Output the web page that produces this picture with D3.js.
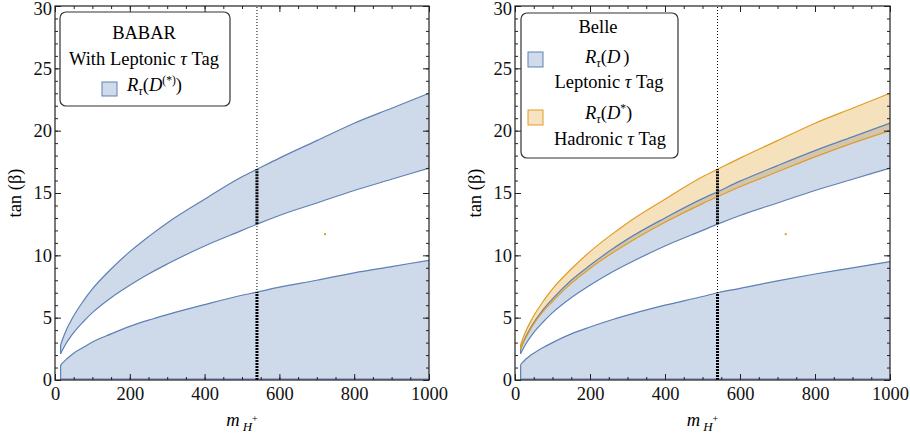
<!DOCTYPE html>
<html><head><meta charset="utf-8">
<script src="https://cdn.jsdelivr.net/npm/d3@7"></script>
<style>
body{margin:0;background:#fff;}
svg, svg text{font-family:"Liberation Serif","Times New Roman",serif;}
</style></head>
<body><svg id="c" width="910" height="436"></svg>
<script>
// ---- data ----
const mass = [15, 20, 30, 40, 50, 75, 100, 150, 200, 250, 300, 400, 500, 540, 600, 700, 800, 900, 1000];
// BABAR, leptonic tag, R(D(*))
const babarUpperHi = [2.8, 3.25, 4.0, 4.6, 5.15, 6.3, 7.3, 8.9, 10.3, 11.5, 12.6, 14.5, 16.3, 16.9, 17.8, 19.2, 20.6, 21.8, 23.0];
const babarUpperLo = [2.1, 2.4, 2.95, 3.4, 3.8, 4.65, 5.4, 6.6, 7.6, 8.5, 9.3, 10.75, 12.0, 12.5, 13.2, 14.2, 15.2, 16.1, 17.0];
const babarLowerHi = [1.2, 1.35, 1.65, 1.9, 2.15, 2.6, 3.05, 3.7, 4.3, 4.8, 5.25, 6.05, 6.8, 7.05, 7.45, 8.0, 8.6, 9.1, 9.6];
// Belle, leptonic tag R(D)
const belleBlueHi = [2.5, 2.9, 3.55, 4.1, 4.6, 5.65, 6.5, 8.0, 9.2, 10.3, 11.3, 13.0, 14.55, 15.1, 15.95, 17.2, 18.4, 19.5, 20.6];
const belleBlueLo = [2.1, 2.4, 2.95, 3.4, 3.8, 4.65, 5.4, 6.6, 7.6, 8.5, 9.3, 10.75, 12.0, 12.5, 13.2, 14.2, 15.2, 16.1, 17.0];
const belleLowerHi = [1.25, 1.4, 1.7, 1.95, 2.15, 2.6, 3.0, 3.7, 4.25, 4.75, 5.2, 6.0, 6.7, 7.0, 7.35, 7.95, 8.5, 9.0, 9.5];
// Belle, hadronic tag R(D*)
const belleOrangeHi = [2.8, 3.25, 4.0, 4.6, 5.15, 6.3, 7.3, 8.9, 10.3, 11.5, 12.6, 14.5, 16.3, 16.9, 17.8, 19.2, 20.6, 21.8, 23.0];
const belleOrangeLo = [2.45, 2.85, 3.45, 4.0, 4.5, 5.5, 6.3, 7.75, 8.95, 10.0, 10.95, 12.65, 14.15, 14.7, 15.5, 16.7, 17.9, 19.0, 20.0];
const markerMass = 540;
const strayPoint = [722, 11.7];
const xMajor = [0, 200, 400, 600, 800, 1000];
const yMajor = [0, 5, 10, 15, 20, 25, 30];

const BLUE = "#5E81B5", ORANGE = "#E19C24";
const FS = 18.5;
const svg = d3.select("#c");

function panel(x0, x1, bands, lowerHi, legendFn) {
  const x = d3.scaleLinear().domain([0, 1000]).range([x0, x1]);
  const y = d3.scaleLinear().domain([0, 30]).range([380, 6]);
  const g = svg.append("g");
  const area = (hi, lo) => d3.area().curve(d3.curveMonotoneX)
      .x((d, i) => x(mass[i])).y0((d, i) => y(lo ? lo[i] : 0)).y1((d, i) => y(hi[i]));
  const line = arr => d3.line().curve(d3.curveMonotoneX).x((d, i) => x(mass[i])).y((d) => y(d))(arr);

  // lower band (0 .. lowerHi)
  g.append("path").attr("d", area(lowerHi, null)(mass)).attr("fill", BLUE).attr("fill-opacity", 0.3);
  g.append("path").attr("d", line(lowerHi)).attr("fill", "none").attr("stroke", BLUE).attr("stroke-width", 1.2);
  g.append("line").attr("x1", x(mass[0])).attr("x2", x(mass[0])).attr("y1", y(0)).attr("y2", y(lowerHi[0]))
    .attr("stroke", BLUE).attr("stroke-width", 1.2);
  g.append("line").attr("x1", x(mass[0])).attr("x2", x(1000)).attr("y1", y(0) - 1).attr("y2", y(0) - 1)
    .attr("stroke", BLUE).attr("stroke-width", 1.2);

  bands.forEach(b => {
    g.append("path").attr("d", area(b.hi, b.lo)(mass)).attr("fill", b.color).attr("fill-opacity", 0.3);
  });
  bands.forEach(b => {
    g.append("path").attr("d", line(b.hi)).attr("fill", "none").attr("stroke", b.color).attr("stroke-width", 1.2);
    g.append("path").attr("d", line(b.lo)).attr("fill", "none").attr("stroke", b.color).attr("stroke-width", 1.2);
    g.append("line").attr("x1", x(mass[0])).attr("x2", x(mass[0])).attr("y1", y(b.lo[0])).attr("y2", y(b.hi[0]))
      .attr("stroke", b.color).attr("stroke-width", 1.2);
  });

  // marker line
  const mi = mass.indexOf(markerMass);
  g.append("line").attr("x1", x(markerMass)).attr("x2", x(markerMass)).attr("y1", y(0)).attr("y2", y(30))
    .attr("stroke", "#000").attr("stroke-width", 1).attr("stroke-dasharray", "1,2");
  const top = d3.max(bands, b => b.hi[mi]), bot = d3.min(bands, b => b.lo[mi]);
  [[bot, top], [0, lowerHi[mi]]].forEach(([a, c]) => {
    g.append("line").attr("x1", x(markerMass)).attr("x2", x(markerMass)).attr("y1", y(a)).attr("y2", y(c))
      .attr("stroke", "#000").attr("stroke-width", 3).attr("stroke-dasharray", "2,1");
  });
  // stray point
  g.append("rect").attr("x", x(strayPoint[0]) - 1).attr("y", y(strayPoint[1]) - 1).attr("width", 2).attr("height", 2)
    .attr("fill", ORANGE);

  // axes (ticks inward)
  const minorX = d3.range(0, 1001, 50), minorY = d3.range(0, 31, 1);
  const mk = (axis, tv, size, labels) => axis.tickValues(tv).tickSize(size).tickSizeOuter(0)
      .tickFormat(labels ? d3.format("d") : "");
  const ax = [
    [d3.axisBottom(x), minorX, -3, false, "b"],
    [d3.axisBottom(x), xMajor, -6, true, "b"],
    [d3.axisTop(x), minorX, -3, false, "t"],
    [d3.axisTop(x), xMajor, -6, false, "t"],
    [d3.axisLeft(y), minorY, -3, false, "l"],
    [d3.axisLeft(y), yMajor, -6, true, "l"],
    [d3.axisRight(y), minorY, -3, false, "r"],
    [d3.axisRight(y), yMajor, -6, false, "r"]
  ];
  const tr = {b: `translate(0,${y(0)})`, t: `translate(0,${y(30)})`, l: `translate(${x0},0)`, r: `translate(${x1},0)`};
  ax.forEach(([a, tv, s, l, side]) => {
    const ag = g.append("g").attr("transform", tr[side]).call(mk(a, tv, s, l));
    ag.attr("font-family", null).attr("font-size", null);
    ag.select(".domain").remove();
    ag.selectAll("line").attr("stroke", "#222");
    ag.selectAll("text").attr("font-size", FS).attr("fill", "#111");
    if (side === "b") ag.selectAll("text").attr("y", 7).attr("dy", "0.71em");
    if (side === "l") ag.selectAll("text").attr("x", -3).attr("dy", d => d === 30 ? "0.45em" : "0.32em");
  });

  g.append("rect").attr("x", x0).attr("y", y(30)).attr("width", x1 - x0).attr("height", y(0) - y(30))
    .attr("fill", "none").attr("stroke", "#222").attr("stroke-width", 1.2);

  // axis titles
  const xt = g.append("text").attr("x", (x0 + x1) / 2).attr("y", 426).attr("text-anchor", "middle")
    .attr("font-size", FS);
  xt.append("tspan").attr("font-style", "italic").text("m");
  xt.append("tspan").attr("font-style", "italic").attr("font-size", 13).attr("dy", 5).attr("dx", 3).text("H");
  xt.append("tspan").attr("font-size", 10).attr("dy", -9).text("+");
  g.append("text").attr("transform", `translate(${x0 - 34},193) rotate(-90)`).attr("text-anchor", "middle")
    .attr("font-size", FS).text("tan (β)");

  legendFn(g);
}

function rtau(t, x, yb, sup) {
  const tx = t.append("text").attr("x", x).attr("y", yb).attr("font-size", FS);
  tx.append("tspan").attr("font-style", "italic").text("R");
  tx.append("tspan").attr("font-style", "italic").attr("font-size", 12.5).attr("dy", 4).text("τ");
  tx.append("tspan").attr("dy", -4).text("(");
  tx.append("tspan").attr("font-style", "italic").text("D");
  tx.append("tspan").attr("font-size", 11.5).attr("dy", -7).text(sup);
  tx.append("tspan").attr("dy", 7).text(")");
}
function tagText(g, x, yb, word) {
  const t = g.append("text").attr("x", x).attr("y", yb).attr("text-anchor", "middle").attr("font-size", FS);
  t.append("tspan").text(word + " ");
  t.append("tspan").attr("font-style", "italic").text("τ");
  t.append("tspan").text(" Tag");
}

panel(55, 429, [{hi: babarUpperHi, lo: babarUpperLo, color: BLUE}], babarLowerHi, g => {
  g.append("rect").attr("x", 60).attr("y", 12).attr("width", 170).attr("height", 94).attr("rx", 6)
    .attr("fill", "#fff").attr("stroke", "#333").attr("stroke-width", 1.2);
  g.append("text").attr("x", 144).attr("y", 39).attr("text-anchor", "middle").attr("font-size", FS).text("BABAR");
  tagText(g, 144, 65, "With Leptonic");
  g.append("rect").attr("x", 102).attr("y", 82).attr("width", 15).attr("height", 14)
    .attr("fill", "#CFDAEA").attr("stroke", BLUE).attr("stroke-width", 1);
  rtau(g, 127, 91, "(*)");
});

panel(515, 890, [{hi: belleBlueHi, lo: belleBlueLo, color: BLUE}, {hi: belleOrangeHi, lo: belleOrangeLo, color: ORANGE}],
  belleLowerHi, g => {
  g.append("rect").attr("x", 521).attr("y", 13).attr("width", 157).attr("height", 145).attr("rx", 6)
    .attr("fill", "#fff").attr("stroke", "#333").attr("stroke-width", 1.2);
  g.append("text").attr("x", 598).attr("y", 33).attr("text-anchor", "middle").attr("font-size", FS).text("Belle");
  g.append("rect").attr("x", 528).attr("y", 52).attr("width", 15).attr("height", 15)
    .attr("fill", "#CFDAEA").attr("stroke", BLUE).attr("stroke-width", 1);
  rtau(g, 585, 63, " ");
  tagText(g, 609, 88, "Leptonic");
  g.append("rect").attr("x", 528).attr("y", 110).attr("width", 15).attr("height", 15)
    .attr("fill", "#F7E3C1").attr("stroke", ORANGE).attr("stroke-width", 1);
  rtau(g, 585, 119, "*");
  tagText(g, 610, 145, "Hadronic");
});
</script></body></html>
